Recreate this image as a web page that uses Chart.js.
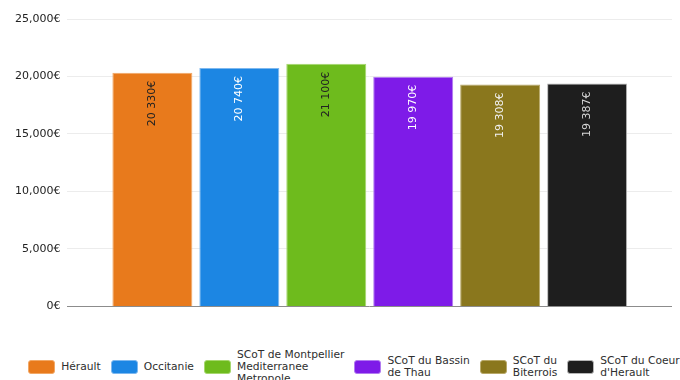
<!DOCTYPE html>
<html lang="fr">
<head>
<meta charset="utf-8">
<title>Salaire moyen</title>
<script src="https://cdn.jsdelivr.net/npm/chart.js@4/dist/chart.umd.min.js"></script>
<style>
  html, body { margin: 0; padding: 0; background: #fff; overflow: hidden; }
  #wrap { position: relative; width: 680px; height: 380px; }
  #chartBox { position: absolute; left: 0; top: 0; width: 680px; height: 320px; }
  #legend {
    position: absolute; left: 14px; top: 345px; width: 680px; height: 44px;
    display: flex; justify-content: center; align-items: center; gap: 10px;
    font: 10.7px "DejaVu Sans", sans-serif; line-height: 12px; color: #2e2e2e;
  }
  .item { display: flex; align-items: center; gap: 6px; }
  .swatch { width: 25px; height: 12px; border-radius: 3px; border: 1px solid; }
</style>
</head>
<body>
<div id="wrap">
  <div id="chartBox"><canvas id="graficoSalaires"></canvas></div>
  <div id="legend"></div>
</div>
<script>
// territoires, une barre chacun (le libellé est coupé en lignes pour la légende)
const territoires = [
    ['Hérault'],
    ['Occitanie'],
    ['SCoT de Montpellier', 'Mediterranee', 'Metropole'],
    ['SCoT du Bassin', 'de Thau'],
    ['SCoT du', 'Biterrois'],
    ['SCoT du Coeur', "d'Herault"]
];
const salaires = [20330, 20740, 21100, 19970, 19308, 19387];
const couleurs = ['#E87A1C', '#1C86E3', '#6EBB1D', '#7E1BE8', '#8A771D', '#1E1E1E'];
const bordures = ['#F2A866', '#7DB8EF', '#A6D76E', '#B27CF0', '#B8A868', '#B5B5B5'];
const couleursTexte = ['#222222', '#ffffff', '#222222', '#ffffff', '#f2f2f2', '#d8d8d8'];
const ticksY = [0, 5000, 10000, 15000, 20000, 25000];

const enEuros = v => String(v).replace(/\B(?=(\d{3})+(?!\d))/g, ' ') + '€';

// valeurs écrites verticalement en haut de chaque barre
const etiquettesBarres = {
    id: 'etiquettesBarres',
    afterDatasetsDraw(chart) {
        const ctx = chart.ctx;
        chart.data.datasets.forEach((ds, i) => {
            const bar = chart.getDatasetMeta(i).data[0];
            ctx.save();
            ctx.translate(bar.x, bar.y + 8);
            ctx.rotate(-Math.PI / 2);
            ctx.font = '11px "DejaVu Sans", sans-serif';
            ctx.fillStyle = couleursTexte[i];
            ctx.textAlign = 'right';
            ctx.textBaseline = 'middle';
            ctx.fillText(enEuros(ds.data[0]), 0, 0);
            ctx.restore();
        });
    }
};

document.addEventListener('DOMContentLoaded', () => {

    const dataBarras = {
        labels: [''],
        datasets: territoires.map((t, i) => ({
            label: t.join(' '),
            data: [salaires[i]],
            backgroundColor: couleurs[i],
            borderColor: bordures[i],
            borderWidth: 1,
            barPercentage: 0.92,
            categoryPercentage: 0.863
        }))
    };

    const configBarras = {
        type: 'bar',
        data: dataBarras,
        options: {
            responsive: true,
            maintainAspectRatio: false,
            animation: false,
            layout: { padding: { top: 19, right: 8, bottom: 13, left: 8 } },
            plugins: {
                legend: { display: false },
                tooltip: { enabled: false }
            },
            scales: {
                x: { display: false },
                y: {
                    min: 0,
                    max: 25000,
                    afterBuildTicks: axis => { axis.ticks = ticksY.map(v => ({ value: v })); },
                    border: { display: false },
                    grid: {
                        drawTicks: false,
                        color: c => c.tick.value === 0 ? '#8c8c8c' : '#ececec'
                    },
                    ticks: {
                        padding: 7,
                        color: '#222',
                        font: { family: '"DejaVu Sans", sans-serif', size: 11 },
                        callback: v => v.toLocaleString('en-US') + '€'
                    }
                }
            }
        },
        plugins: [etiquettesBarres]
    };
    new Chart(document.getElementById('graficoSalaires'), configBarras);

    // légende en HTML pour les libellés sur plusieurs lignes
    const legende = document.getElementById('legend');
    territoires.forEach((t, i) => {
        const item = document.createElement('div');
        item.className = 'item';
        const sw = document.createElement('span');
        sw.className = 'swatch';
        sw.style.background = couleurs[i];
        sw.style.borderColor = bordures[i];
        const txt = document.createElement('span');
        txt.innerHTML = t.join('<br>');
        item.append(sw, txt);
        legende.appendChild(item);
    });
});
</script>
</body>
</html>
